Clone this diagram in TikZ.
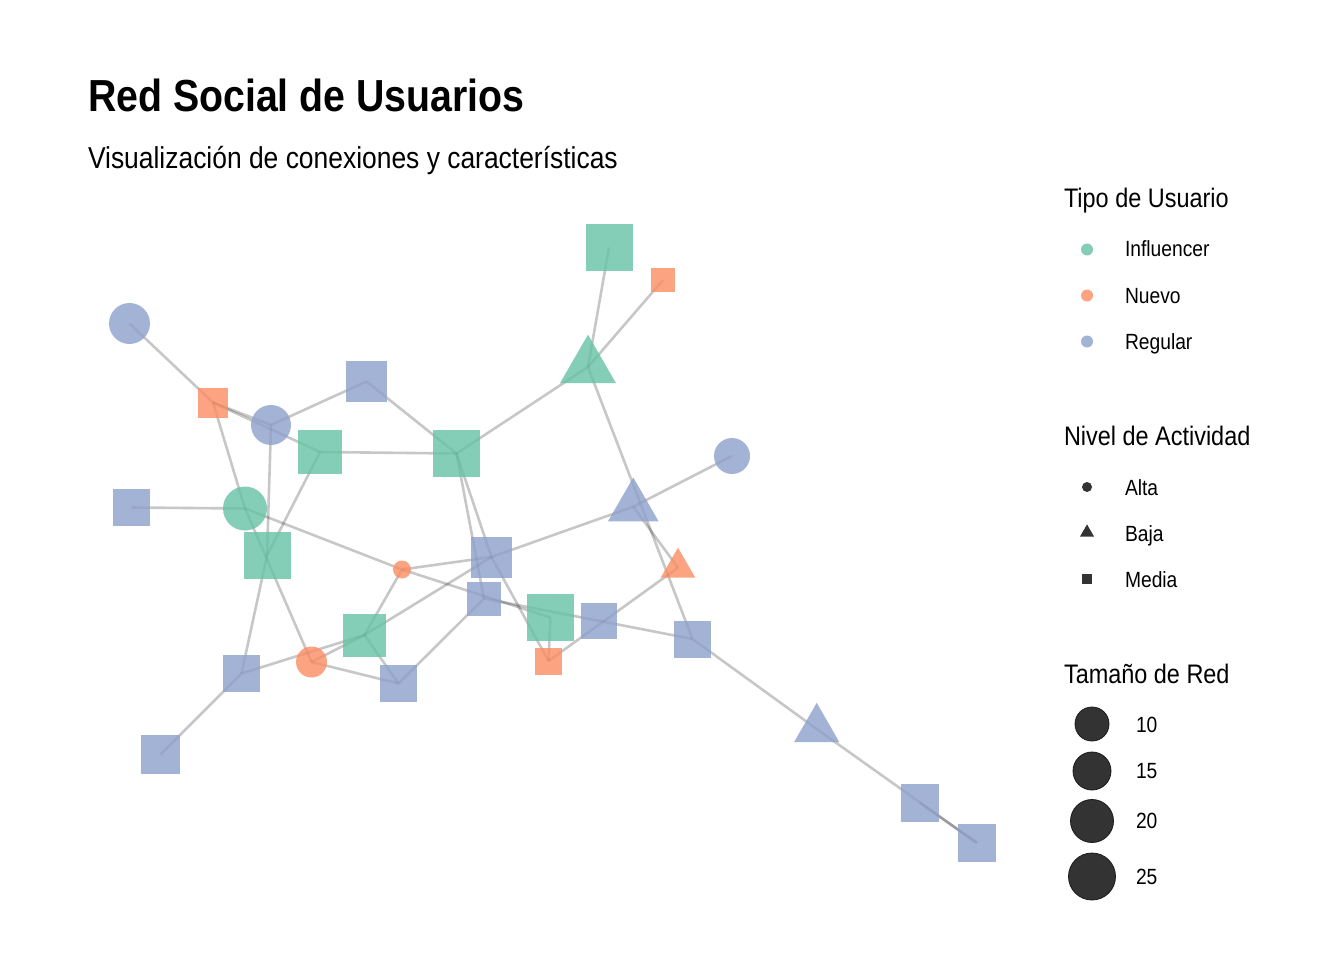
\documentclass[tikz,border=0pt]{standalone}
\usepackage{fontspec}
\setmainfont{Liberation Sans}[FakeStretch=0.875]
\usetikzlibrary{shapes.geometric}
\pgfdeclarelayer{back}
\pgfdeclarelayer{bg}
\pgfsetlayers{back,bg,main}
\definecolor{infl}{HTML}{66C2A5}
\definecolor{nuevo}{HTML}{FC8D62}
\definecolor{regul}{HTML}{8DA0CB}
\definecolor{dark}{HTML}{333333}
\tikzset{
  base/.style={inner sep=0pt, outer sep=0pt, draw=none, fill opacity=0.8},
  sq/.style={base, rectangle, minimum size=#1},
  ci/.style={base, circle, minimum size=#1},
  tri/.style={base, regular polygon, regular polygon sides=3, minimum size=#1},
  gI/.style={fill=infl}, gN/.style={fill=nuevo}, gR/.style={fill=regul},
  edge/.style={draw=black, opacity=0.22, line width=2.6pt},
  txt/.style={anchor=base west, inner sep=0pt, outer sep=0pt, text=black},
}
\begin{document}
\begin{tikzpicture}[x=1pt,y=-1pt]
\begin{pgfonlayer}{back}
\fill[white] (0,0) rectangle (1344,960);
\end{pgfonlayer}
\useasboundingbox (0,0) rectangle (1344,960);

% titles
\node[txt, font=\fontsize{44.9}{50}\selectfont\bfseries] (title) at (88,112) {Red Social de Usuarios};
\node[txt, font=\fontsize{30.2}{34}\selectfont] (subtitle) at (88,168.5) {Visualización de conexiones y características};

% nodes (size = 2 x circumradius for triangles)
\node[ci=41, gR] (A) at (129.5,323.5) {};
\node[sq=30, gN] (B) at (213,402.5) {};
\node[ci=40, gR] (C) at (271,425) {};
\node[sq=41, gR] (D) at (366.5,381.5) {};
\node[sq=44, gI] (E) at (320,452) {};
\node[sq=47, gI] (F) at (456.5,453.5) {};
\node[tri=64.7, gI] (G) at (588,367) {};
\node[sq=47, gI] (H) at (609,247.5) {};
\node[sq=24, gN] (I) at (663,280) {};
\node[ci=36, gR] (J) at (732,456) {};
\node[tri=58.5, gR] (K) at (633.3,506.7) {};
\node[tri=40, gN] (L) at (678,567.7) {};
\node[sq=37, gR] (M) at (131.5,507.5) {};
\node[ci=44, gI] (N) at (245,508.5) {};
\node[sq=47, gI] (O) at (267,555.5) {};
\node[ci=18, gN] (P) at (402,569.5) {};
\node[sq=41, gR] (Q) at (491.5,557) {};
\node[sq=34, gR] (R) at (484,598.5) {};
\node[sq=47, gI] (S) at (550.5,617.5) {};
\node[sq=36, gR] (T) at (599,621) {};
\node[sq=27, gN] (U) at (548.5,661) {};
\node[sq=37, gR] (V) at (692.5,639) {};
\node[sq=43, gI] (W) at (364.5,635) {};
\node[ci=31, gN] (X) at (311.5,662) {};
\node[sq=37, gR] (Y) at (241.5,673.5) {};
\node[sq=37, gR] (Z) at (398.5,683.5) {};
\node[sq=39, gR] (AA) at (160.5,754.5) {};
\node[tri=52.3, gR] (AB) at (816.7,729) {};
\node[sq=38, gR] (AC) at (920,803) {};
\node[sq=38, gR] (AD) at (977,843) {};

% edges
\begin{pgfonlayer}{bg}
\foreach \a/\b in {A/B,B/C,B/E,B/N,C/D,C/O,D/F,E/F,E/O,F/G,F/Q,F/R,G/H,G/I,G/V,
  J/K,K/L,K/Q,M/N,N/P,N/X,P/Q,P/S,R/V,P/W,W/Z,W/Q,X/W,X/Z,Y/W,Y/O,Y/AA,Z/R,
  S/U,Q/U,U/L,V/AB,AB/AD,AC/AD}
  \draw[edge] (\a.center) -- (\b.center);
\end{pgfonlayer}

% legend: user type
\node[txt, font=\fontsize{26.8}{30}\selectfont] (lt1) at (1064,208) {Tipo de Usuario};
\node[ci=12, gI] (li1) at (1087,249.5) {};
\node[ci=12, gN] (li2) at (1087,295.5) {};
\node[ci=12, gR] (li3) at (1087,341.5) {};
\node[txt, font=\fontsize{22}{26}\selectfont] (lb1) at (1125,257) {Influencer};
\node[txt, font=\fontsize{22}{26}\selectfont] (lb2) at (1125,303) {Nuevo};
\node[txt, font=\fontsize{22}{26}\selectfont] (lb3) at (1125,349) {Regular};

% legend: activity
\node[txt, font=\fontsize{26.8}{30}\selectfont] (lt2) at (1064,445) {Nivel de Actividad};
\node[ci=10, fill=dark, base, fill opacity=1] (la1) at (1087,487) {};
\node[tri=16.2, fill=dark, fill opacity=1] (la2) at (1087,532.5) {};
\node[sq=10, fill=dark, fill opacity=1] (la3) at (1087,579) {};
\node[txt, font=\fontsize{22}{26}\selectfont] (lc1) at (1125,495) {Alta};
\node[txt, font=\fontsize{22}{26}\selectfont] (lc2) at (1125,541) {Baja};
\node[txt, font=\fontsize{22}{26}\selectfont] (lc3) at (1125,587) {Media};

% legend: size
\node[txt, font=\fontsize{26.8}{30}\selectfont] (lt3) at (1064,683) {Tamaño de Red};
\tikzset{szc/.style={circle, inner sep=0pt, minimum size=#1, fill=dark, draw=black!90, line width=0.8pt}}
\node[szc=34] (s1) at (1092,724) {};
\node[szc=38] (s2) at (1092,771) {};
\node[szc=43] (s3) at (1092,821) {};
\node[szc=47] (s4) at (1092,876.5) {};
\node[txt, font=\fontsize{22}{26}\selectfont] (sl1) at (1136,732) {10};
\node[txt, font=\fontsize{22}{26}\selectfont] (sl2) at (1136,778.5) {15};
\node[txt, font=\fontsize{22}{26}\selectfont] (sl3) at (1136,828.5) {20};
\node[txt, font=\fontsize{22}{26}\selectfont] (sl4) at (1136,884) {25};
\end{tikzpicture}
\end{document}
